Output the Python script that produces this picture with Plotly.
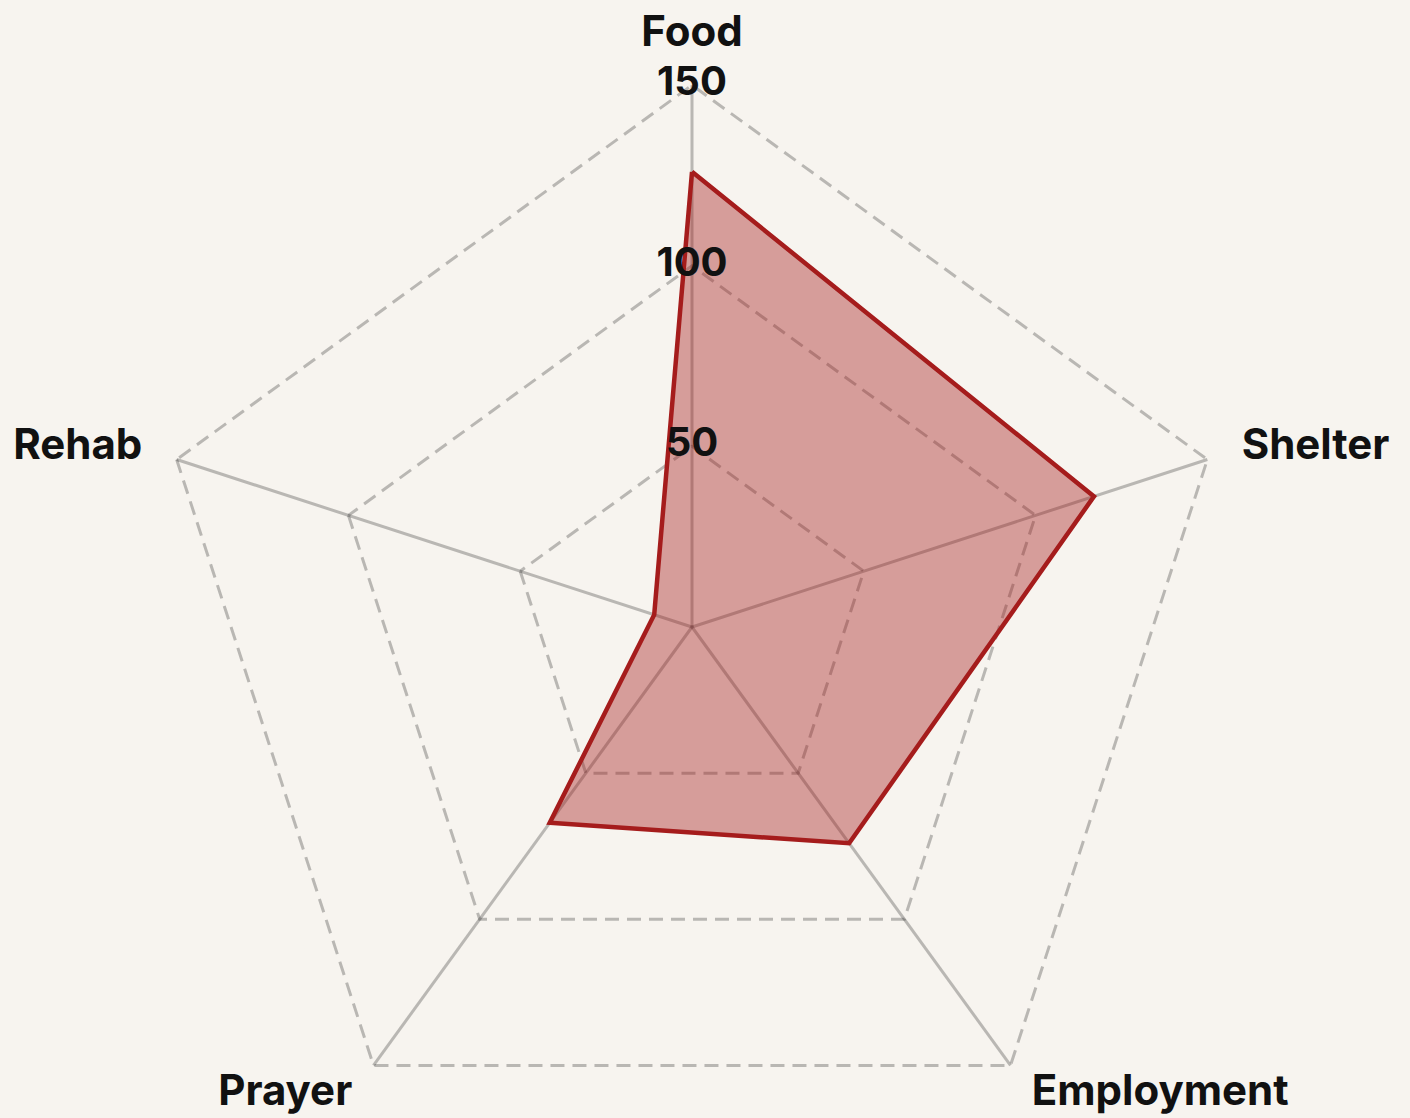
import plotly.graph_objects as go

# Radar values
categories = ["Food", "Shelter", "Employment", "Prayer", "Rehab"]
values = [126, 117, 74, 67, 11]
tick_values = [0, 50, 100, 150]
tick_labels = ["0", "50", "100", "150"]
axis_max = 150
outer_r = 160                          # radial range end, leaves room for labels
label_radii = [158, 160, 160, 160, 160]  # where each category label is anchored

BG = "#F7F4EF"
RED = "#A51C1C"
GRID = "rgba(0,0,0,0.25)"
INK = "#111111"
FONT = "Inter"
label_pos = ["top center", "middle right", "middle right", "middle left", "middle left"]

fig = go.Figure()

# ── Spokes from centre to the outer ring ─────────────────────────────
spoke_r, spoke_t = [], []
for cat in categories:
    spoke_r += [0, axis_max, None]
    spoke_t += [cat, cat, None]
fig.add_trace(go.Scatterpolar(
    r=spoke_r, theta=spoke_t,
    mode="lines",
    line=dict(color=GRID, width=3),
    hoverinfo="skip", showlegend=False,
))

# ── Filled series ────────────────────────────────────────────────────
fig.add_trace(go.Scatterpolar(
    r=values + values[:1],
    theta=categories + categories[:1],
    mode="lines",
    fill="toself",
    fillcolor="rgba(165,28,28,0.4)",
    line=dict(color=RED, width=4.5),
    hoverinfo="skip",
    showlegend=False,
))

# ── Radial tick labels centred on the first spoke ────────────────────
fig.add_trace(go.Scatterpolar(
    r=tick_values,
    theta=[categories[0]] * len(tick_values),
    mode="text",
    text=tick_labels,
    textposition="middle center",
    textfont=dict(family=FONT, size=40, color=INK, weight=700),
    cliponaxis=False,
    hoverinfo="skip", showlegend=False,
))

# ── Category labels ──────────────────────────────────────────────────
fig.add_trace(go.Scatterpolar(
    r=label_radii,
    theta=categories,
    mode="text",
    text=categories,
    textposition=label_pos,
    textfont=dict(family=FONT, size=42, color=INK, weight=700),
    cliponaxis=False,
    hoverinfo="skip", showlegend=False,
))

fig.update_layout(
    width=1410,
    height=1205,
    margin=dict(l=114, r=140, t=49, b=0),
    paper_bgcolor=BG,
    plot_bgcolor=BG,
    showlegend=False,
    polar=dict(
        bgcolor=BG,
        gridshape="linear",
        domain=dict(x=[0, 1], y=[0, 1]),
        radialaxis=dict(
            range=[0, outer_r],
            tickvals=tick_values[1:],
            showticklabels=False,
            showline=False,
            ticks="",
            gridcolor=GRID,
            gridwidth=3,
            griddash="14px,8px",
        ),
        angularaxis=dict(
            rotation=90,
            direction="clockwise",
            showline=False,
            showgrid=False,
            ticks="",
            showticklabels=False,
        ),
    ),
)

fig.write_html(
    "out.html",
    config={"displayModeBar": False},
    post_script="document.body.style.margin='0';document.body.style.background='%s';" % BG,
)
